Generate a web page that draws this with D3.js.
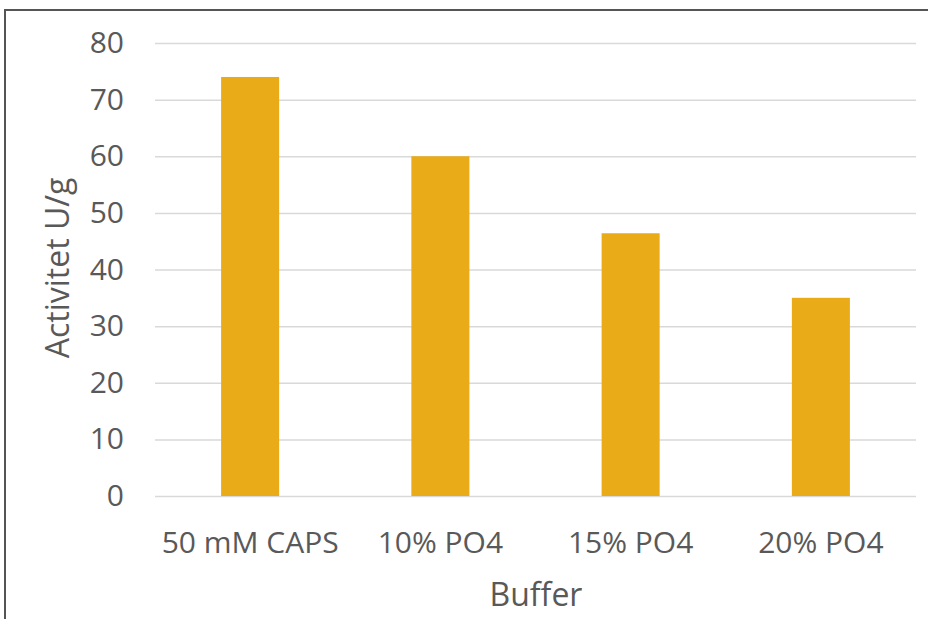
<!DOCTYPE html>
<html><head><meta charset="utf-8">
<script src="https://cdn.jsdelivr.net/npm/d3@7"></script>
<style>body{margin:0;background:#fff;} svg{display:block;}</style>
</head><body>
<script>
const categories = ["50 mM CAPS", "10% PO4", "15% PO4", "20% PO4"];
const values = [74.0, 60.0, 46.4, 35.0];
const yTicks = [0, 10, 20, 30, 40, 50, 60, 70, 80];
const yTitle = "Activitet U/g";
const xTitle = "Buffer";

(function () {
const W = 928, H = 619;
const svg = d3.select("body").append("svg").attr("width", W).attr("height", H);
svg.append("rect").attr("x", 5).attr("y", 10).attr("width", W + 10).attr("height", H + 10)
  .attr("fill", "#fff").attr("stroke", "#555").attr("stroke-width", 2);

const pLeft = 155, pRight = 916, pTop = 43, pBottom = 496;
const x = d3.scaleBand().domain(categories).range([pLeft, pRight]).paddingInner(0.695).paddingOuter(0.3475);
const y = d3.scaleLinear().domain([0, 80]).range([pBottom, pTop]);
const font = "'Open Sans', sans-serif";

const yAxis = svg.append("g").attr("transform", `translate(${pLeft},0)`)
  .call(d3.axisLeft(y).tickValues(yTicks).tickSize(-(pRight - pLeft)).tickPadding(31));
yAxis.select(".domain").remove();
yAxis.selectAll(".tick line").attr("stroke", "#d9d9d9").attr("stroke-width", 1.5);
yAxis.selectAll(".tick text").attr("fill", "#595959").style("font-family", font).style("font-size", "30px");

svg.selectAll("rect.bar").data(values).join("rect").attr("class", "bar")
  .attr("x", (d, i) => x(categories[i])).attr("width", x.bandwidth())
  .attr("y", d => y(d)).attr("height", d => y(0) - y(d)).attr("fill", "#E9AB17");

const xAxis = svg.append("g").attr("transform", `translate(0,${pBottom})`)
  .call(d3.axisBottom(x).tickSize(0));
xAxis.select(".domain").remove();
xAxis.selectAll(".tick text").attr("y", 57).attr("dy", null)
  .attr("fill", "#595959").style("font-family", font).style("font-size", "30px");

svg.append("text").attr("x", 536).attr("y", 606).attr("text-anchor", "middle")
  .attr("fill", "#595959").style("font-family", font).style("font-size", "32px").text(xTitle);
svg.append("text").attr("transform", "translate(69,268) rotate(-90)").attr("text-anchor", "middle")
  .attr("fill", "#595959").style("font-family", font).style("font-size", "32px").text(yTitle);
})();
</script>
</body></html>
